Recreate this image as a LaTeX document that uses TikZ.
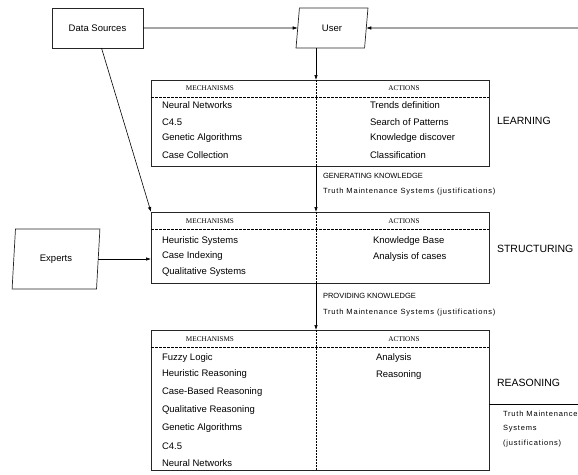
\documentclass[tikz,border=0pt]{standalone}
\usepackage{fontspec}
\setmainfont{Liberation Sans}
\newfontfamily\hdfont{Liberation Serif}
\usetikzlibrary{shapes.geometric,arrows.meta}
\begin{document}
\begin{tikzpicture}[x=1pt,y=-1pt,
 every node/.style={inner sep=0pt, outer sep=0pt},
 box/.style={draw=black!85, line width=0.7pt, rectangle},
 para/.style={draw=black!85, line width=0.7pt, trapezium, trapezium left angle=81, trapezium right angle=99, trapezium stretches=true},
 item/.style={anchor=west, font=\fontsize{9.5}{11}\selectfont},
 hd/.style={font=\hdfont\fontsize{7.2}{8}\selectfont},
 small/.style={anchor=west, font=\fontsize{7.5}{9}\selectfont\addfontfeatures{LetterSpace=11}},
 stage/.style={anchor=west, font=\fontsize{10.5}{12}\selectfont},
 arr/.style={-{Latex[length=5pt,width=3.5pt]}, line width=0.6pt},
 vsep/.style={line width=0.6pt, dash pattern=on 2pt off 1pt},
 hsep/.style={line width=0.6pt, dash pattern=on 3pt off 1pt},
 ]
\useasboundingbox (0,0) rectangle (578,474);
% top nodes
\node[box, minimum width=91pt, minimum height=40pt, font=\fontsize{9.5}{11}\selectfont] (ds) at (97.5,28) {Data Sources};
\node[para, minimum width=72pt, minimum height=40pt, font=\fontsize{9.5}{11}\selectfont] (user) at (332,28) {User};
\node[para, minimum width=88pt, minimum height=60pt, font=\fontsize{9.5}{11}\selectfont] (ex) at (56,259) {Experts};
% boxes
\node[box, minimum width=338pt, minimum height=86pt, anchor=north west] (b1) at (151,80) {};
\node[box, minimum width=338pt, minimum height=71pt, anchor=north west] (b2) at (151,212) {};
\node[box, minimum width=338pt, minimum height=140pt, anchor=north west] (b3) at (151,330) {};
\coordinate (dv) at (316,0);
\coordinate (re) at (578,28);
% separators
\draw[vsep] (b1.north -| dv) -- (b1.south -| dv);
\draw[vsep] (b2.north -| dv) -- (b2.south -| dv);
\draw[vsep] (b3.north -| dv) -- (b3.south -| dv);
\draw[hsep] ([yshift=-17pt]b1.north west) -- ([yshift=-17pt]b1.north east);
\draw[hsep] ([yshift=-17pt]b2.north west) -- ([yshift=-17pt]b2.north east);
\draw[hsep] ([yshift=-17pt]b3.north west) -- ([yshift=-17pt]b3.north east);
% headers
\node[hd] (h1m) at (210,88) {MECHANISMS};
\node[hd] (h1a) at (404,88) {ACTIONS};
\node[hd] (h2m) at (210,221) {MECHANISMS};
\node[hd] (h2a) at (404,221) {ACTIONS};
\node[hd] (h3m) at (210,339) {MECHANISMS};
\node[hd] (h3a) at (404,339) {ACTIONS};
% box 1 items
\foreach \t/\y [count=\i] in {Neural Networks/105, C4.5/122, Genetic Algorithms/138, Case Collection/155}
  \node[item] (b1m\i) at (162,\y) {\t};
\foreach \t/\y [count=\i] in {Trends definition/105, Search of Patterns/122, Knowledge discover/138, Classification/155}
  \node[item] (b1a\i) at (370,\y) {\t};
% box 2 items
\foreach \t/\y [count=\i] in {Heuristic Systems/241, Case Indexing/256, Qualitative Systems/272}
  \node[item] (b2m\i) at (162,\y) {\t};
\foreach \t/\y [count=\i] in {Knowledge Base/241, Analysis of cases/257}
  \node[item] (b2a\i) at (373,\y) {\t};
% box 3 items
\foreach \t/\y [count=\i] in {Fuzzy Logic/358, Heuristic Reasoning/374, Case-Based Reasoning/392, Qualitative Reasoning/410, Genetic Algorithms/428, C4.5/446, Neural Networks/463}
  \node[item] (b3m\i) at (162,\y) {\t};
\foreach \t/\y [count=\i] in {Analysis/358, Reasoning/375}
  \node[item] (b3a\i) at (376,\y) {\t};
% stage labels
\node[stage] (learn) at (497,121) {LEARNING};
\node[stage] (struct) at (497,249) {STRUCTURING};
\node[stage] (reas) at (497,383) {REASONING};
% between-box labels
\node[small, font=\fontsize{7.5}{9}\selectfont] (gk) at (323,176) {GENERATING KNOWLEDGE};
\node[small] (tm1) at (323,192) {Truth Maintenance Systems (justifications)};
\node[small, font=\fontsize{7.5}{9}\selectfont] (pk) at (323,296) {PROVIDING KNOWLEDGE};
\node[small] (tm2) at (323,313) {Truth Maintenance Systems (justifications)};
\node[small] (tm3a) at (503,414) {Truth Maintenance};
\node[small] (tm3b) at (503,429) {Systems};
\node[small] (tm3c) at (503,444) {(justifications)};
\coordinate (rl) at (578,404);
\draw[line width=0.6pt] (b3.east |- rl) -- (rl);
% connectors
\draw[arr] (ds.east) -- (user.west);
\draw[arr] (re) -- (user.east);
\draw[arr] (user.south -| dv) -- (b1.north -| dv);
\draw[arr] (b1.south -| dv) -- (b2.north -| dv);
\draw[arr] (b2.south -| dv) -- (b3.north -| dv);
\draw[arr] ([xshift=4pt]ds.south) -- (b2.north west);
\draw[arr] (ex.east) -- (b2.west |- ex.east);
\end{tikzpicture}
\end{document}
